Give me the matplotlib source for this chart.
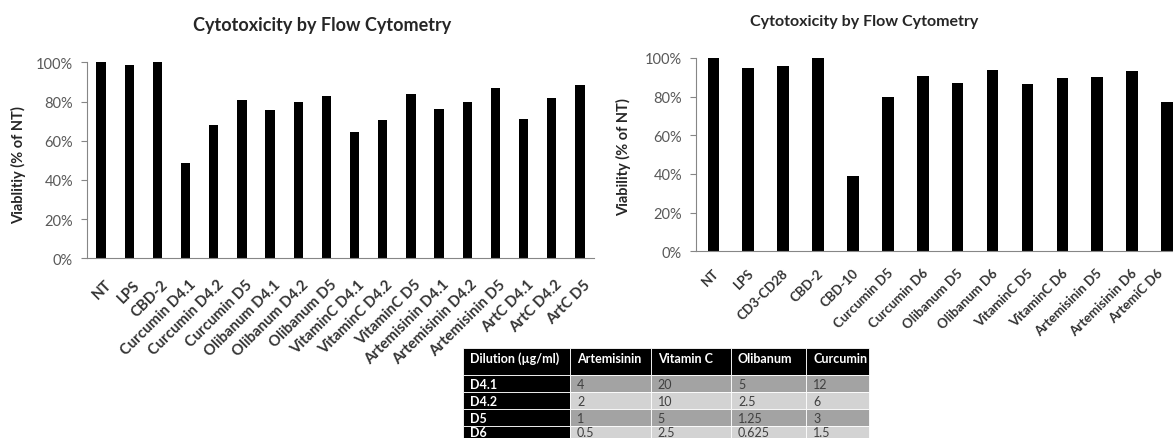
import numpy as np
import matplotlib.pyplot as plt
import matplotlib as mpl
from matplotlib.patches import Rectangle
from matplotlib.ticker import PercentFormatter
from matplotlib.transforms import ScaledTranslation

mpl.rcParams['font.family'] = ['Lato', 'DejaVu Sans']

# first experiment: dilution series D4.1 .. D5
labels_a = ['NT', 'LPS', 'CBD-2', 'Curcumin D4.1', 'Curcumin D4.2', 'Curcumin D5',
            'Olibanum D4.1', 'Olibanum D4.2', 'Olibanum D5', 'VitaminC D4.1',
            'VitaminC D4.2', 'VitaminC D5', 'Artemisinin D4.1', 'Artemisinin D4.2',
            'Artemisinin D5', 'ArtC D4.1', 'ArtC D4.2', 'ArtC D5']
viability_a = [100, 98.6, 100, 48.8, 67.9, 81.0, 75.7, 79.6, 82.7, 64.6,
               70.4, 84.0, 76.2, 79.6, 86.9, 71.1, 81.8, 88.4]

# second experiment: D5 / D6
labels_b = ['NT', 'LPS', 'CD3-CD28', 'CBD-2', 'CBD-10', 'Curcumin D5', 'Curcumin D6',
            'Olibanum D5', 'Olibanum D6', 'VitaminC D5', 'VitaminC D6',
            'Artemisinin D5', 'Artemisinin D6', 'ArtemiC D6']
viability_b = [100, 94.8, 95.7, 99.8, 39.1, 80.0, 90.7, 86.9, 93.8, 86.4,
               89.7, 90.2, 93.1, 77.2]

# dilution table (ug/ml)
dilutions = ['D4.1', 'D4.2', 'D5', 'D6']
table_header = ['Dilution (µg/ml)', 'Artemisinin', 'Vitamin C', 'Olibanum', 'Curcumin']
artemisinin = [4, 2, 1, 0.5]
vitamin_c = [20, 10, 5, 2.5]
olibanum = [5, 2.5, 1.25, 0.625]
curcumin = [12, 6, 3, 1.5]

W, H = 1173, 439
fig = plt.figure(figsize=(W / 100, H / 100), dpi=100)


def px_axes(x0, y0, x1, y1):
    return fig.add_axes([x0 / W, 1 - y1 / H, (x1 - x0) / W, (y1 - y0) / H])


def px_shift(dx):
    return ScaledTranslation(dx / 100, 0, fig.dpi_scale_trans)


def bar_panel(ax, labels, values, ylabel, title, title_xy, title_fs, ylabel_xy,
              fs, pad, shift):
    x = np.arange(len(labels))
    ax.bar(x, values, width=0.33, color='black')
    ax.set_xlim(-0.5, len(labels) - 0.5)
    ax.set_ylim(0, 100)
    ax.set_yticks(np.arange(0, 101, 20))
    ax.yaxis.set_major_formatter(PercentFormatter(100, decimals=0))
    ax.set_xticks(x)
    ax.set_xticklabels(labels, rotation=45, ha='right', va='top',
                       rotation_mode='anchor', fontsize=fs, fontweight='bold',
                       color='#333333')
    ax.tick_params(axis='x', length=0, pad=pad)
    # nudge the slanted labels sideways (shift in pixels)
    for lab in ax.get_xticklabels():
        lab.set_transform(lab.get_transform() + px_shift(shift))
    ax.tick_params(axis='y', length=4, color='#868686', labelsize=10.5,
                   labelcolor='#595959', pad=6)
    for side in ['top', 'right']:
        ax.spines[side].set_visible(False)
    for side in ['left', 'bottom']:
        ax.spines[side].set_color('#868686')
    fig.text(title_xy[0] / W, 1 - title_xy[1] / H, title, ha='center', va='center',
             fontsize=title_fs, fontweight='bold', color='#262626')
    fig.text(ylabel_xy[0] / W, 1 - ylabel_xy[1] / H, ylabel, ha='center', va='center',
             rotation=90, fontsize=10.5, fontweight='bold', color='#262626')


ax1 = px_axes(87, 63.3, 594, 259.3)
bar_panel(ax1, labels_a, viability_a, 'Viablitiy (% of NT)',
          'Cytotoxicity by Flow Cytometry', (322.5, 26), 13, (18.3, 165),
          10.7, 13.5, 3)

ax2 = px_axes(695.9, 59, 1184.5, 252.3)
bar_panel(ax2, labels_b, viability_b, 'Viability (% of NT)',
          'Cytotoxicity by Flow Cytometry', (864, 21.7), 11.5, (623.3, 156.7),
          9.5, 10.8, -1)
# the last label is pulled in so it stays inside the figure
last = ax2.get_xticklabels()[-1]
last.set_transform(last.get_transform() + px_shift(-9))

# dilution table drawn as cells
col_w = [106.7, 80.7, 80.3, 75, 63]
head_h, row_h = 27, 17
tx0, ty0 = 463.3, 349.3
tw = sum(col_w)
th = head_h + row_h * len(dilutions)
axt = px_axes(tx0, ty0, tx0 + tw, ty0 + th)
axt.set_xlim(0, tw)
axt.set_ylim(th, 0)
axt.axis('off')

edges = np.concatenate([[0], np.cumsum(col_w)])
for j, name in enumerate(table_header):
    axt.add_patch(Rectangle((edges[j], 0), col_w[j], head_h, facecolor='black',
                            edgecolor='white', linewidth=0.6, clip_on=False))
    axt.text(edges[j] + 7, 9.5, name, ha='left', va='center', color='white',
             fontsize=9, fontweight='bold')

columns = [artemisinin, vitamin_c, olibanum, curcumin]
for i, dil in enumerate(dilutions):
    y = head_h + i * row_h
    shade = '#a3a3a3' if i % 2 == 0 else '#d3d3d3'
    axt.add_patch(Rectangle((0, y), col_w[0], row_h, facecolor='black',
                            edgecolor='white', linewidth=0.6, clip_on=False))
    # last row sits at the bottom edge, keep its text a little higher
    ty = y + row_h / 2 - (2.5 if i == len(dilutions) - 1 else 0)
    axt.text(7, ty, dil, ha='left', va='center', color='white',
             fontsize=9, fontweight='bold')
    for j, col in enumerate(columns, start=1):
        axt.add_patch(Rectangle((edges[j], y), col_w[j], row_h, facecolor=shade,
                                edgecolor='white', linewidth=0.6, clip_on=False))
        axt.text(edges[j] + 7, ty, f'{col[i]:g}', ha='left', va='center',
                 color='#404040', fontsize=9)

fig.savefig('out.png', dpi=100)
